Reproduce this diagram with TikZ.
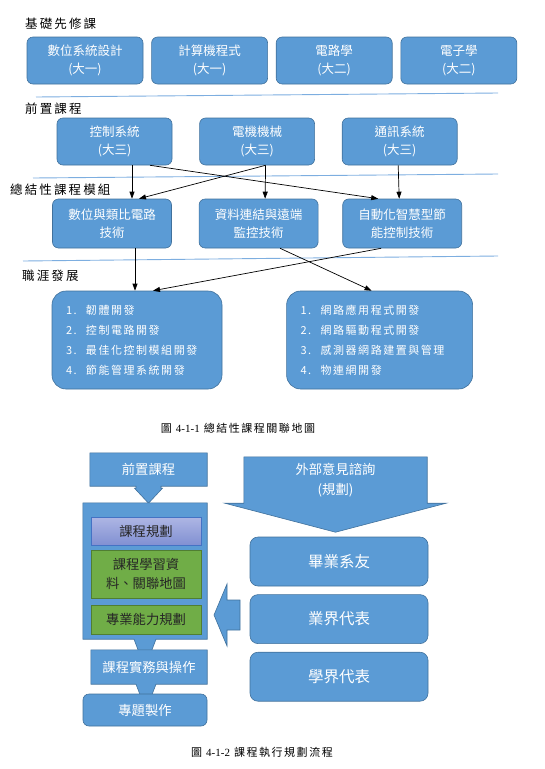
\documentclass[tikz,border=0pt]{standalone}
\usepackage{fontspec}
\setmainfont{Noto Sans CJK TC}
\newfontfamily\hdfont[LetterSpace=17]{Noto Sans CJK TC}
\newfontfamily\lstfont[LetterSpace=14]{Noto Sans CJK TC}
\newfontfamily\capfont[LetterSpace=14]{Noto Sans CJK TC}
\newfontfamily\latfont{Liberation Serif}
\usetikzlibrary{arrows.meta, positioning, calc, backgrounds}
\definecolor{cBlue}{HTML}{5B9BD5}
\definecolor{cEdge}{HTML}{41719C}
\definecolor{cLine}{HTML}{7DAEE0}
\definecolor{cLavTop}{HTML}{AEB6E4}
\definecolor{cLavBot}{HTML}{8190D2}
\definecolor{cLavEdge}{HTML}{4472C4}
\definecolor{cGreen}{HTML}{70AD47}
\definecolor{cGreenEdge}{HTML}{507E32}
\tikzset{
  blk/.style={
    rectangle, rounded corners=6pt, draw=cEdge, fill=cBlue, text=white,
    align=center, inner sep=0pt, line width=0.6pt,
    font=\fontsize{12.5}{18}\selectfont
  },
  toprow/.style={blk, minimum width=116pt, minimum height=47pt},
  midrow/.style={blk, minimum width=115pt, minimum height=47pt},
  modrow/.style={blk, minimum width=119pt, minimum height=49pt},
  career/.style={blk, rounded corners=14pt, minimum height=98pt, align=left,
    inner xsep=14pt, font=\lstfont\fontsize{11}{20}\selectfont},
  sidebox/.style={blk, rounded corners=8pt, minimum width=178pt,
    minimum height=49pt, font=\fontsize{15.5}{18}\selectfont},
  flowbox/.style={rectangle, inner sep=0pt, text=white, align=center,
    font=\fontsize{13.3}{20}\selectfont},
  planbox/.style={rectangle, draw=cLavEdge, top color=cLavTop,
    bottom color=cLavBot, minimum width=110pt, minimum height=28pt,
    inner sep=0pt, align=center, font=\fontsize{13.3}{19}\selectfont},
  greenbox/.style={planbox, draw=cGreenEdge, top color=cGreen,
    bottom color=cGreen, text=black!85},
  callout/.style={draw=cEdge, fill=cBlue, line width=0.6pt},
  heading/.style={anchor=west, inner sep=0pt, font=\hdfont\fontsize{12.5}{15}\selectfont},
  sepline/.style={draw=cLine, line width=0.9pt},
  capt/.style={inner sep=0pt, font=\capfont\fontsize{11}{13}\selectfont},
  arr/.style={-{Triangle[length=7pt,width=5pt]}, line width=0.7pt},
}
\newcommand{\itm}[2]{\makebox[20pt][l]{#1.}#2}

\begin{document}
\begin{tikzpicture}[x=1pt, y=-1pt]
  \useasboundingbox (0,0) rectangle (545,769);

  % Headings and separators
  \node[heading] (hbase)   at (25,24)  {基礎先修課};
  \node[heading] (hpre)    at (25,109) {前置課程};
  \node[heading] (hmod)    at (10,190) {總結性課程模組};
  \node[heading] (hcareer) at (22,276) {職涯發展};
  \draw[sepline] (36,97)  -- (498,93);
  \draw[sepline] (33,178) -- (498,174);
  \draw[sepline] (23,261) -- (498,256);

  % Row 1: basic courses
  \node[toprow] (logic) at (85,60.5) {數位系統設計\\(大一)};
  \node[toprow, right=8pt of logic] (prog) {計算機程式\\(大一)};
  \node[toprow, right=8pt of prog]  (circ) {電路學\\(大二)};
  \node[toprow, right=8pt of circ]  (elec) {電子學\\(大二)};

  % Row 2: prerequisite courses
  \node[midrow] (ctrl) at (114.5,141.5) {控制系統\\(大三)};
  \node[midrow, right=27pt of ctrl]  (motor) {電機機械\\(大三)};
  \node[midrow, right=27pt of motor] (comm)  {通訊系統\\(大三)};

  % Row 3: capstone modules
  \node[modrow] (dig) at (112,223.5) {數位與類比電路\\技術};
  \node[modrow, right=27pt of dig]    (remote) {資料連結與遠端\\監控技術};
  \node[modrow, right=24pt of remote] (auto)   {自動化智慧型節\\能控制技術};

  % Row 4: careers
  \node[career, text width=142pt] (hw) at (137,340)
    {\itm{1}{韌體開發}\\\itm{2}{控制電路開發}\\\itm{3}{最佳化控制模組開發}\\\itm{4}{節能管理系統開發}};
  \node[career, text width=158pt, right=64pt of hw] (net)
    {\itm{1}{網路應用程式開發}\\\itm{2}{網路驅動程式開發}\\\itm{3}{感測器網路建置與管理}\\\itm{4}{物連網開發}};

  % Arrows: prerequisites -> modules
  \draw[arr] ([xshift=17.5pt]ctrl.south) -- ([xshift=20pt]dig.north);
  \draw[arr] ([xshift=35.5pt]ctrl.south) -- ([xshift=-24pt]auto.north);
  \draw[arr] ([xshift=8.5pt]motor.south) -- ([xshift=27pt]dig.north);
  \draw[arr] ([xshift=8.5pt]motor.south) -- ([xshift=6.5pt]remote.north);
  \draw[arr] ([xshift=-1.5pt]comm.south) -- ([xshift=-3pt]auto.north);

  % Arrows: modules -> careers
  \draw[arr] ([xshift=23pt]dig.south)     -- ([xshift=-2pt]hw.north);
  \draw[arr] ([xshift=-21pt]auto.south)   -- ([xshift=16pt]hw.north);
  \draw[arr] ([xshift=21.5pt]remote.south) -- ([xshift=-8pt]net.north);

  \node[capt] (cap1) at (238,428) {圖 {\latfont 4-1-1} 總結性課程關聯地圖};

  % Flow: left column
  \node[flowbox, minimum width=117pt, minimum height=33pt] (pre) at (148.5,469.5) {前置課程};
  \node[flowbox, minimum width=124pt, minimum height=136pt] (plan) at (145,571) {};
  \node[planbox, text=black!85] (sched) at (146,531) {課程規劃};
  \node[greenbox, minimum height=48pt] (data) at (146,574) {課程學習資\\料、關聯地圖};
  \node[greenbox, minimum height=29pt] (skill) at (146,619.5) {專業能力規劃};
  \node[flowbox, minimum width=116pt, minimum height=34pt] (practice) at (149,667) {課程實務與操作};
  \node[flowbox, callout, rounded corners=6pt, minimum width=124pt, minimum height=32pt] (topic) at (145,710) {專題製作};

  % Flow: right column
  \node[flowbox, minimum width=183pt, minimum height=46pt] (ext) at (335.5,480) {外部意見諮詢\\(規劃)};
  \node[sidebox] (alum) at (339,561.5) {畢業系友};
  \node[sidebox, below=8pt of alum] (ind)  {業界代表};
  \node[sidebox, below=8pt of ind]  (acad) {學界代表};

  % Callout outlines
  \begin{scope}[on background layer]
    \draw[callout] (pre.north west) -- (pre.north east) -- (pre.south east)
      -- ([xshift=12.5pt]pre.south) -- ([xshift=12.5pt,yshift=-2pt]pre.south)
      -- ([xshift=14pt,yshift=-2pt]pre.south) -- ([yshift=-17pt]pre.south)
      -- ([xshift=-14pt,yshift=-2pt]pre.south) -- ([xshift=-12.5pt,yshift=-2pt]pre.south)
      -- ([xshift=-12.5pt]pre.south) -- (pre.south west) -- cycle;
    \draw[callout] (plan.north west) -- (plan.north east) -- (plan.south east)
      -- ([xshift=11pt]plan.south) -- ([yshift=-29pt]plan.south)
      -- ([xshift=-11pt]plan.south) -- (plan.south west) -- cycle;
    \draw[callout] (practice.north west) -- (practice.north east) -- (practice.south east)
      -- ([xshift=7pt]practice.south) -- ([xshift=-3pt,yshift=-26pt]practice.south)
      -- ([xshift=-13pt]practice.south) -- (practice.south west) -- cycle;
    \draw[callout] (ext.north west) -- (ext.north east) -- (ext.south east)
      -- ([xshift=19pt]ext.south east) -- ([yshift=-29pt]ext.south)
      -- ([xshift=-19pt]ext.south west) -- (ext.south west) -- cycle;
  \end{scope}

  % Block arrow towards the plan
  \draw[callout] (240,600) -- (227,600) -- (227,584) -- (214,615)
    -- (227,646) -- (227,630) -- (240,630) -- cycle;

  \node[capt] (cap2) at (262,752) {圖 {\latfont 4-1-2} 課程執行規劃流程};
\end{tikzpicture}
\end{document}
